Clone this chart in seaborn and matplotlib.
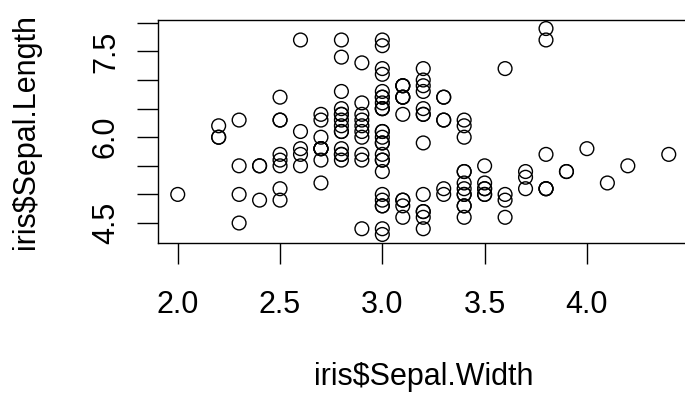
import matplotlib
matplotlib.use("Agg")
import matplotlib.pyplot as plt
import seaborn as sns
import pandas as pd

# Iris sepal measurements (values as plotted)
sepal_length = [
    5.1, 4.9, 4.7, 4.6, 5.0, 5.4, 4.6, 5.0, 4.4, 4.9,
    5.4, 4.8, 4.8, 4.3, 5.8, 5.7, 5.4, 5.1, 5.7, 5.1,
    5.4, 5.1, 4.6, 5.1, 4.8, 5.0, 5.0, 5.2, 5.2, 4.7,
    4.8, 5.4, 5.2, 5.5, 4.9, 5.0, 5.5, 4.9, 4.4, 5.1,
    5.0, 4.5, 4.4, 5.0, 5.1, 4.8, 5.1, 4.6, 5.3, 5.0,
    7.0, 6.4, 6.9, 5.5, 6.5, 5.7, 6.3, 4.9, 6.6, 5.2,
    5.0, 5.9, 6.0, 6.1, 5.6, 6.7, 5.6, 5.8, 6.2, 5.6,
    5.9, 6.1, 6.3, 6.1, 6.4, 6.6, 6.8, 6.7, 6.0, 5.7,
    5.5, 5.5, 5.8, 6.0, 5.4, 6.0, 6.7, 6.3, 5.6, 5.5,
    5.5, 6.1, 5.8, 5.0, 5.6, 5.7, 5.7, 6.2, 5.1, 5.7,
    6.3, 5.8, 7.1, 6.3, 6.5, 7.6, 4.9, 7.3, 6.7, 7.2,
    6.5, 6.4, 6.8, 5.7, 5.8, 6.4, 6.5, 7.7, 7.7, 6.0,
    6.9, 5.6, 7.7, 6.3, 6.7, 7.2, 6.2, 6.1, 6.4, 7.2,
    7.4, 7.9, 6.4, 6.3, 6.1, 7.7, 6.3, 6.4, 6.0, 6.9,
    6.7, 6.9, 5.8, 6.8, 6.7, 6.7, 6.3, 6.5, 6.2, 5.9,
]
sepal_width = [
    3.5, 3.0, 3.2, 3.1, 3.6, 3.9, 3.4, 3.4, 2.9, 3.1,
    3.7, 3.4, 3.0, 3.0, 4.0, 4.4, 3.9, 3.5, 3.8, 3.8,
    3.4, 3.7, 3.6, 3.3, 3.4, 3.0, 3.4, 3.5, 3.4, 3.2,
    3.1, 3.4, 4.1, 4.2, 3.1, 3.2, 3.5, 3.6, 3.0, 3.4,
    3.5, 2.3, 3.2, 3.5, 3.8, 3.0, 3.8, 3.2, 3.7, 3.3,
    3.2, 3.2, 3.1, 2.3, 2.8, 2.8, 3.3, 2.4, 2.9, 2.7,
    2.0, 3.0, 2.2, 2.9, 2.9, 3.1, 3.0, 2.7, 2.2, 2.5,
    3.2, 2.8, 2.5, 2.8, 2.9, 3.0, 2.8, 3.0, 2.9, 2.6,
    2.4, 2.4, 2.7, 2.7, 3.0, 3.4, 3.1, 2.3, 3.0, 2.5,
    2.6, 3.0, 2.6, 2.3, 2.7, 3.0, 2.9, 2.9, 2.5, 2.8,
    3.3, 2.7, 3.0, 2.9, 3.0, 3.0, 2.5, 2.9, 2.5, 3.6,
    3.2, 2.7, 3.0, 2.5, 2.8, 3.2, 3.0, 3.8, 2.6, 2.2,
    3.2, 2.8, 2.8, 2.7, 3.3, 3.2, 2.8, 3.0, 2.8, 3.0,
    2.8, 3.8, 2.8, 2.8, 2.6, 3.0, 3.4, 3.1, 3.0, 3.1,
    3.1, 3.1, 2.7, 3.2, 3.3, 3.0, 2.5, 3.0, 3.4, 3.0,
]

x_ticks = [2.0, 2.5, 3.0, 3.5, 4.0]
x_tick_labels = ["2.0", "2.5", "3.0", "3.5", "4.0"]
y_ticks = [4.5, 5.0, 5.5, 6.0, 6.5, 7.0, 7.5, 8.0]
y_tick_labels = ["4.5", "", "", "6.0", "", "", "7.5", ""]
x_label = "iris\\$Sepal.Width"
y_label = "iris\\$Sepal.Length"

df = pd.DataFrame({"w": sepal_width, "l": sepal_length})

sns.set_theme(style="ticks")
plt.rcParams["font.family"] = ["Liberation Sans", "DejaVu Sans"]

fig = plt.figure(figsize=(6.85, 3.98), dpi=100)
fig.patch.set_facecolor("white")
ax = fig.add_axes([158.1 / 685, 1 - 242.7 / 398, 530.3 / 685, 222.4 / 398])
ax.set_facecolor("white")

sns.scatterplot(data=df, x="w", y="l", ax=ax, marker="o", s=98,
                facecolor="none", edgecolor="black", linewidth=1.0,
                legend=False)

xmin, xmax = min(sepal_width), max(sepal_width)
ymin, ymax = min(sepal_length), max(sepal_length)
xp = (xmax - xmin) * 0.04
yp = (ymax - ymin) * 0.04
ax.set_xlim(xmin - xp, xmax + xp)
ax.set_ylim(ymin - yp, ymax + yp)

ax.set_xticks(x_ticks)
ax.set_xticklabels(x_tick_labels)
ax.set_yticks(y_ticks)
ax.set_yticklabels(y_tick_labels, rotation=90, va="center")

for sp in ax.spines.values():
    sp.set_visible(True)
    sp.set_color("black")
    sp.set_linewidth(1.0)

ax.tick_params(axis="both", direction="out", length=14.8, width=1.0,
               color="black", labelsize=22, labelcolor="black")
ax.tick_params(axis="x", pad=19)
ax.tick_params(axis="y", pad=12)

ax.set_xlabel(x_label, fontsize=22, color="black", va="baseline")
ax.set_ylabel(y_label, fontsize=22, color="black", va="baseline")
ax.xaxis.set_label_coords(0.5, -(385 - 242.7) / 222.4)
ax.yaxis.set_label_coords((34 - 158.1) / 530.3, 0.5)

fig.savefig("out.png", dpi=100, facecolor="white")
